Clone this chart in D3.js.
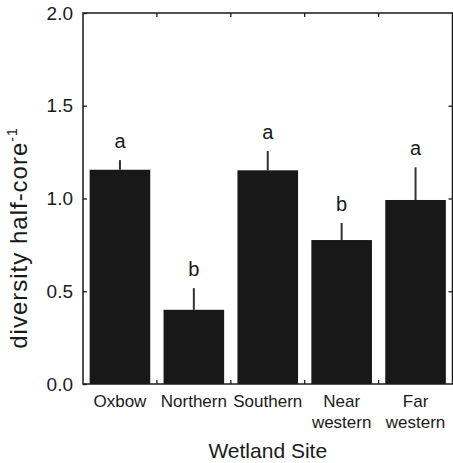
<!DOCTYPE html>
<html>
<head>
<meta charset="utf-8">
<script src="https://cdn.jsdelivr.net/npm/d3@7"></script>
<style>
  html, body { margin: 0; padding: 0; background: #fff; }
  svg { display: block; }
  text { font-family: "Liberation Sans", Arial, Helvetica, sans-serif; fill: #1a1a1a; }
</style>
</head>
<body>
<svg id="chart" width="453" height="463"></svg>
<script>
const categories = ["Oxbow", "Northern", "Southern", "Near western", "Far western"];
const categoryLines = [["Oxbow"], ["Northern"], ["Southern"], ["Near", "western"], ["Far", "western"]];
const means = [1.155, 0.40, 1.152, 0.776, 0.992];
const errors = [0.052, 0.117, 0.104, 0.092, 0.176];
const groupLetters = ["a", "b", "a", "b", "a"];
const yTicks = [0, 0.5, 1.0, 1.5, 2.0];

const W = 453, H = 463;
const m = { left: 83, right: 452.5, top: 13, bottom: 384 };
const svg = d3.select("#chart");

const x = d3.scaleBand().domain(categories).range([m.left, m.right]).paddingInner(0.18).paddingOuter(0.09);
const y = d3.scaleLinear().domain([0, 2]).range([m.bottom, m.top]);

// bars
svg.append("g").selectAll("rect").data(categories).join("rect")
  .attr("x", d => x(d))
  .attr("y", (d, i) => y(means[i]))
  .attr("width", x.bandwidth())
  .attr("height", (d, i) => y(0) - y(means[i]))
  .attr("fill", "#181818");

// error bars (upper only)
svg.append("g").selectAll("line").data(categories).join("line")
  .attr("x1", d => x(d) + x.bandwidth() / 2)
  .attr("x2", d => x(d) + x.bandwidth() / 2)
  .attr("y1", (d, i) => y(means[i]))
  .attr("y2", (d, i) => y(means[i] + errors[i]))
  .attr("stroke", "#333")
  .attr("stroke-width", 2);

// letters
svg.append("g").selectAll("text").data(categories).join("text")
  .attr("x", d => x(d) + x.bandwidth() / 2)
  .attr("y", (d, i) => y(means[i] + errors[i]) - 12)
  .attr("text-anchor", "middle")
  .attr("font-size", 20)
  .text((d, i) => groupLetters[i]);

// frame
svg.append("rect")
  .attr("x", m.left).attr("y", m.top)
  .attr("width", m.right - m.left).attr("height", m.bottom - m.top)
  .attr("fill", "none").attr("stroke", "#1a1a1a").attr("stroke-width", 1.5);

// boundary ticks on top and bottom (inward)
const step = x.step();
const bounds = d3.range(1, categories.length).map(i => m.left + step * i);
const tk = svg.append("g").attr("stroke", "#1a1a1a").attr("stroke-width", 1.3);
tk.selectAll("line.t").data(bounds).join("line").attr("class", "t")
  .attr("x1", d => d).attr("x2", d => d).attr("y1", m.top).attr("y2", m.top + 4);
tk.selectAll("line.b").data(bounds).join("line").attr("class", "b")
  .attr("x1", d => d).attr("x2", d => d).attr("y1", m.bottom).attr("y2", m.bottom - 4);

// y axis (left) with inward ticks
const yAxisL = svg.append("g").attr("transform", `translate(${m.left},0)`)
  .call(d3.axisLeft(y).tickValues(yTicks).tickFormat(d3.format(".1f")).tickSize(-4).tickPadding(10));
yAxisL.select(".domain").remove();
yAxisL.selectAll("line").attr("stroke", "#1a1a1a").attr("stroke-width", 1.3);
yAxisL.selectAll("text").attr("font-size", 19).attr("fill", "#1a1a1a")
  .attr("font-family", "'Liberation Sans', Arial, sans-serif");

// right axis inward ticks
const yAxisR = svg.append("g").attr("transform", `translate(${m.right},0)`)
  .call(d3.axisRight(y).tickValues(yTicks.slice(1, -1)).tickFormat("").tickSize(-4));
yAxisR.select(".domain").remove();
yAxisR.selectAll("line").attr("stroke", "#1a1a1a").attr("stroke-width", 1.3);

// x category labels
const xl = svg.append("g");
categories.forEach((c, i) => {
  const t = xl.append("text")
    .attr("x", x(c) + x.bandwidth() / 2)
    .attr("y", 407)
    .attr("text-anchor", "middle")
    .attr("font-size", 17);
  categoryLines[i].forEach((line, j) => {
    t.append("tspan").attr("x", x(c) + x.bandwidth() / 2).attr("dy", j === 0 ? 0 : 21).text(line);
  });
});

// x title
svg.append("text")
  .attr("x", (m.left + m.right) / 2)
  .attr("y", 458)
  .attr("text-anchor", "middle")
  .attr("font-size", 21)
  .text("Wetland Site");

// y title
const yt = svg.append("text")
  .attr("transform", "translate(27,238) rotate(-90)")
  .attr("text-anchor", "middle")
  .attr("font-size", 24)
  .attr("letter-spacing", 1);
yt.append("tspan").text("diversity half-core");
yt.append("tspan").attr("font-size", 14).attr("dy", -10).text("-1");
</script>
</body>
</html>
